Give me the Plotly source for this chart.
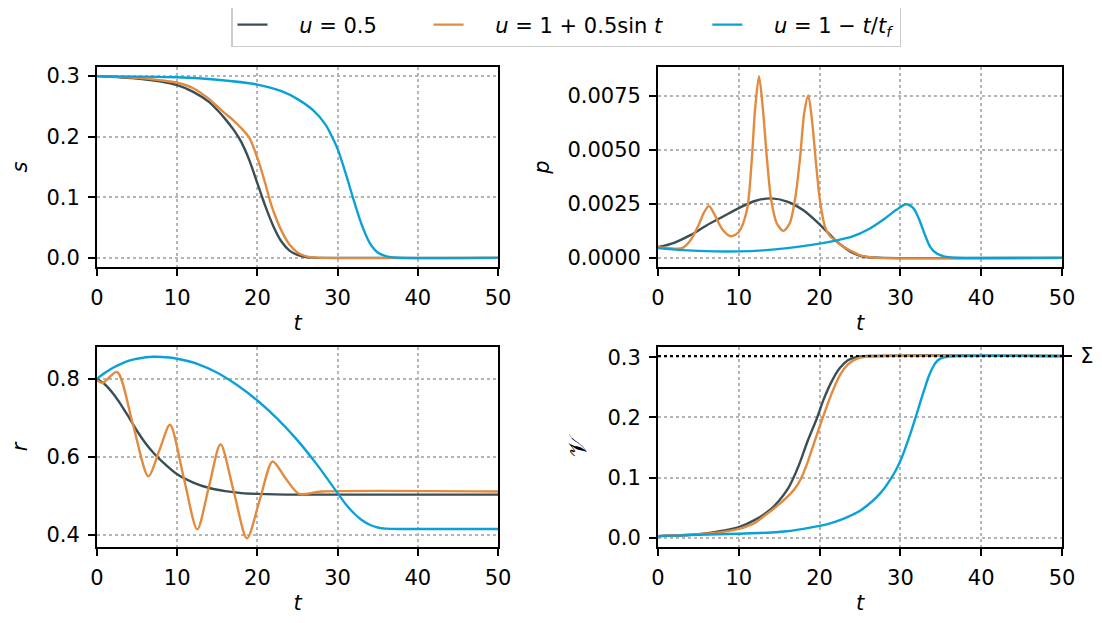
import plotly.graph_objects as go

# ---------------- data ----------------
SERIES_NAMES = ["<i>u</i> = 0.5", "<i>u</i> = 1 + 0.5sin <i>t</i>", "<i>u</i> = 1 − <i>t</i>/<i>t</i><sub><i>f</i></sub>"]
COLORS = ["#3a4e56", "#e28b3f", "#0aa2d6"]

# s(t)
s_dark_t = [0, 5, 8, 10, 12, 14, 15, 16, 17, 17.6, 18, 19, 20, 20.6, 21, 22, 23, 24, 25, 26, 27, 28, 50]
s_dark_v = [0.3, 0.296, 0.291, 0.285, 0.274, 0.257, 0.244, 0.229, 0.212, 0.2, 0.191, 0.161, 0.123, 0.1, 0.085, 0.052,
            0.027, 0.012, 0.005, 0.0015, 0.0004, 0, 0]
s_orng_t = [0, 5, 8, 10, 12, 14, 15, 16, 17, 18, 19, 20, 21, 21.45, 22, 23, 24, 25, 26, 27, 28, 50]
s_orng_v = [0.3, 0.297, 0.293, 0.289, 0.28, 0.262, 0.25, 0.238, 0.227, 0.214, 0.198, 0.165, 0.122, 0.1, 0.077,
            0.045, 0.022, 0.009, 0.003, 0.0008, 0, 0]
s_blue_t = [0, 10, 15, 20, 23, 25, 27, 28.5, 29.3, 30, 31, 31.9, 33, 34, 35, 36, 37, 38, 50]
s_blue_v = [0.3, 0.298, 0.294, 0.286, 0.275, 0.262, 0.243, 0.22, 0.2, 0.18, 0.14, 0.1, 0.055, 0.025, 0.009, 0.003, 0.0008, 0, 0]

# p(t)
p_dark_t = [0, 2, 4, 6, 8, 10, 12, 14, 16, 18, 20, 22, 23, 24, 25, 26, 28, 50]
p_dark_v = [0.0005, 0.0007, 0.00105, 0.0015, 0.0019, 0.0023, 0.00263, 0.00275, 0.0026, 0.0022, 0.00155, 0.0008, 0.0005, 0.00025, 0.0001, 0.00003, 0, 0]
p_orng_t = [0, 1, 2, 3, 4, 5, 5.7, 6.3, 7, 8, 9, 10, 11, 11.6, 12, 12.5, 13, 13.5, 14, 14.7, 15.5, 16.3, 17, 17.6,
            18.1, 18.6, 19.1, 19.6, 20.1, 20.7, 21.3, 22, 23, 24, 25, 26, 27, 50]
p_orng_v = [0.0005, 0.00047, 0.00043, 0.00045, 0.0008, 0.0015, 0.0021, 0.0024, 0.002, 0.0013, 0.001, 0.0012, 0.0022,
            0.0045, 0.0068, 0.0084, 0.0068, 0.0045, 0.0027, 0.0016, 0.00125, 0.0016, 0.0028, 0.0047, 0.0067, 0.0075,
            0.0062, 0.0042, 0.0025, 0.0014, 0.001, 0.0008, 0.0005, 0.0003, 0.00012, 0.00004, 0, 0]
p_blue_t = [0, 3, 7, 10, 13, 16, 19, 22, 24, 26, 28, 29.5, 30.7, 31.6, 32.3, 33, 33.7, 34.5, 35.5, 37, 38, 50]
p_blue_v = [0.00045, 0.00036, 0.0003, 0.0003, 0.00035, 0.00045, 0.0006, 0.0008, 0.00098, 0.00131, 0.0018, 0.00222,
            0.00248, 0.0023, 0.0018, 0.0011, 0.0005, 0.0002, 0.00006, 0.00001, 0, 0]

# r(t)
r_dark_t = [0, 1, 2, 3, 4, 5, 6, 7, 8, 10, 12, 14, 16, 18, 20, 25, 50]
r_dark_v = [0.8, 0.785, 0.762, 0.733, 0.7, 0.666, 0.636, 0.611, 0.59, 0.555, 0.534, 0.52, 0.512, 0.507, 0.505, 0.503, 0.503]
r_orng_t = [0, 0.7, 2.5, 4.45, 6.4, 7.75, 9.1, 10.8, 12.5, 13.95, 15.4, 17.05, 18.7, 20.3, 21.9, 23.5, 25.2, 28, 50]
r_orng_v = [0.796, 0.789, 0.817, 0.685, 0.55, 0.615, 0.682, 0.548, 0.414, 0.523, 0.632, 0.511, 0.391, 0.49, 0.588, 0.545, 0.505, 0.511, 0.511]
r_blue_t = [0, 1, 2, 3, 4, 5, 7, 9, 10, 12.5, 15, 17.5, 20, 22.5, 25, 27.5, 30, 31, 32, 33, 34, 35, 36, 38, 50]
r_blue_v = [0.8, 0.815, 0.828, 0.838, 0.846, 0.851, 0.856, 0.854, 0.851, 0.838, 0.815, 0.783, 0.744, 0.697, 0.642,
            0.578, 0.507, 0.479, 0.456, 0.438, 0.426, 0.419, 0.416, 0.415, 0.415]

# V(t)
SIGMA = 0.302
v_dark_t = [0, 5, 8, 10, 12, 14, 15, 16, 16.7, 17.5, 18.5, 19.7, 20.5, 21.5, 22.5, 23.5, 24.5, 26, 50]
v_dark_v = [0.003, 0.006, 0.012, 0.018, 0.03, 0.048, 0.062, 0.08, 0.098, 0.123, 0.16, 0.2, 0.23, 0.26, 0.282, 0.295, 0.3, 0.302, 0.302]
v_orng_t = [0, 5, 8, 10, 12, 13, 14, 15, 16, 17, 17.75, 18.5, 19.5, 20.4, 21.5, 22.5, 23.5, 24.5, 26, 28, 50]
v_orng_v = [0.003, 0.006, 0.01, 0.015, 0.025, 0.035, 0.045, 0.056, 0.068, 0.083, 0.1, 0.125, 0.165, 0.2, 0.24, 0.27, 0.288, 0.297, 0.301, 0.302, 0.302]
v_blue_t = [0, 5, 10, 14, 16, 18, 20, 21, 22, 23, 24, 25, 26, 27, 28, 28.9, 29.5, 30, 30.5, 31, 31.5, 32, 32.5, 33,
            33.5, 34, 34.5, 35, 36, 37, 50]
v_blue_v = [0.003, 0.005, 0.007, 0.009, 0.011, 0.015, 0.02, 0.023, 0.027, 0.032, 0.038, 0.045, 0.055, 0.067, 0.082,
            0.1, 0.114, 0.128, 0.145, 0.164, 0.184, 0.205, 0.227, 0.248, 0.268, 0.283, 0.293, 0.298, 0.301, 0.302, 0.302]

X_TICKS = [0, 10, 20, 30, 40, 50]

# ---------------- figure ----------------
FONT = "DejaVu Sans"
FS = 21
NB = "&nbsp;"
fig = go.Figure()

legend_labels = [NB * 4 + SERIES_NAMES[0] + NB * 7,
                 NB * 4 + SERIES_NAMES[1] + NB * 6,
                 NB * 4 + SERIES_NAMES[2]]

panels = [
    ("x", "y", [(s_dark_t, s_dark_v), (s_orng_t, s_orng_v), (s_blue_t, s_blue_v)]),
    ("x2", "y2", [(p_dark_t, p_dark_v), (p_orng_t, p_orng_v), (p_blue_t, p_blue_v)]),
    ("x3", "y3", [(r_dark_t, r_dark_v), (r_orng_t, r_orng_v), (r_blue_t, r_blue_v)]),
    ("x4", "y4", [(v_dark_t, v_dark_v), (v_orng_t, v_orng_v), (v_blue_t, v_blue_v)]),
]
for pi, (xa, ya, series) in enumerate(panels):
    for si, (tt, vv) in enumerate(series):
        fig.add_trace(go.Scatter(
            x=tt, y=vv, xaxis=xa, yaxis=ya, mode="lines",
            line=dict(color=COLORS[si], width=2.4, shape="spline", smoothing=0.8),
            name=legend_labels[si], showlegend=(pi == 0), legendrank=si,
        ))

# Sigma asymptote on an overlaying right axis
fig.add_trace(go.Scatter(
    x=[0, 50], y=[SIGMA, SIGMA], xaxis="x4", yaxis="y5", mode="lines",
    line=dict(color="black", width=2, dash="dot"), showlegend=False, hoverinfo="skip",
))

# page has an 8px body margin: figure is placed at (8, 8)
OFF = 8
W, H = 1102 - OFF, 623 - OFF
L, T = 97 - OFF, 67 - OFF
R = W - (1062 - OFF)
B = H - (547 - OFF)
pw, ph = W - L - R, H - T - B
px = lambda x: (x - 97) / pw          # page x -> paper fraction
py = lambda y: (547 - y) / ph         # page y -> paper fraction
xd1 = [0, px(498)]
xd2 = [px(658), 1]
yd_top = [py(267), 1]
yd_bot = [0, py(347)]

common = dict(
    showline=True, mirror=True, linecolor="black", linewidth=1.8,
    ticks="outside", ticklen=7, tickwidth=1.8, tickcolor="black", ticklabelstandoff=4,
    showgrid=True, gridcolor="#b5b5b5", griddash="dot", gridwidth=1.5,
    zeroline=False, tickfont=dict(family=FONT, size=FS, color="black"),
)
xcommon = dict(common, range=[0, 50], tickvals=X_TICKS)

ttl = lambda s, size=FS: dict(text=s, font=dict(family=FONT, size=size, color="black"))

fig.update_layout(
    width=W, height=H,
    margin=dict(l=L, r=R, t=T, b=B, autoexpand=False),
    paper_bgcolor="white", plot_bgcolor="white",
    font=dict(family=FONT, size=FS, color="black"),
    xaxis=dict(xcommon, domain=xd1, anchor="y", title=ttl("<i>t</i>"), title_standoff=6),
    yaxis=dict(common, domain=yd_top, anchor="x", range=[-0.015, 0.315], tickvals=[0, 0.1, 0.2, 0.3],
               tickformat=".1f", title=ttl("<i>s</i>"), title_standoff=14),
    xaxis2=dict(xcommon, domain=xd2, anchor="y2", title=ttl("<i>t</i>"), title_standoff=6),
    yaxis2=dict(common, domain=yd_top, anchor="x2", range=[-0.00042, 0.00882],
                tickvals=[0, 0.0025, 0.005, 0.0075], tickformat=".4f", title=ttl("<i>p</i>"), title_standoff=12),
    xaxis3=dict(xcommon, domain=xd1, anchor="y3", title=ttl("<i>t</i>"), title_standoff=6),
    yaxis3=dict(common, domain=yd_bot, anchor="x3", range=[0.369, 0.881], tickvals=[0.4, 0.6, 0.8],
                tickformat=".1f", title=ttl("<i>r</i>"), title_standoff=14),
    xaxis4=dict(xcommon, domain=xd2, anchor="y4", title=ttl("<i>t</i>"), title_standoff=6),
    yaxis4=dict(common, domain=yd_bot, anchor="x4", range=[-0.0151, 0.317], tickvals=[0, 0.1, 0.2, 0.3],
                tickformat=".1f", title=ttl("𝒱", 24), title_standoff=14),
    yaxis5=dict(overlaying="y4", side="right", anchor="x4", range=[-0.0151, 0.317], tickvals=[SIGMA],
                ticktext=["Σ"], ticks="outside", ticklen=9, tickwidth=1.8, tickcolor="black",
                showgrid=False, zeroline=False, showline=False, ticklabelstandoff=4,
                tickfont=dict(family=FONT, size=FS, color="black")),
    legend=dict(orientation="h", x=px(566), xanchor="center", y=py(3), yanchor="top",
                bordercolor="#cccccc", borderwidth=1.5, bgcolor="white",
                font=dict(family=FONT, size=FS, color="black"),
                itemwidth=30, tracegroupgap=0),
    showlegend=True,
)

fig.write_html("out.html")
